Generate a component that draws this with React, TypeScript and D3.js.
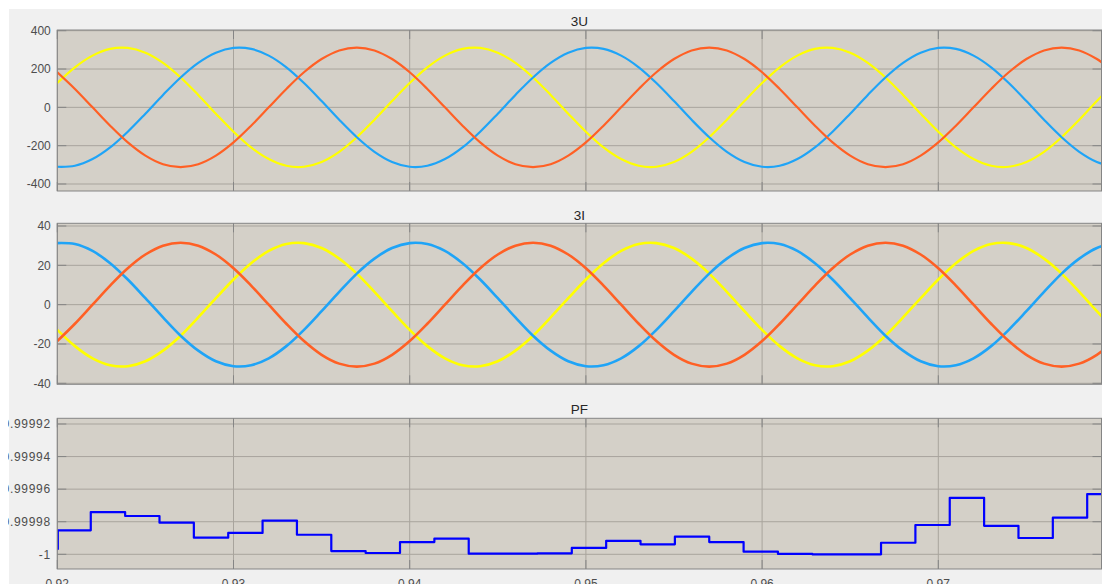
import React from 'react';
import * as d3 from 'd3';

// ---------- data ----------
const sampleTimes = [
  0.920, 0.921, 0.922, 0.923, 0.924, 0.925, 0.926, 0.927, 0.928, 0.929,
  0.930, 0.931, 0.932, 0.933, 0.934, 0.935, 0.936, 0.937, 0.938, 0.939,
  0.940, 0.941, 0.942, 0.943, 0.944, 0.945, 0.946, 0.947, 0.948, 0.949,
  0.950, 0.951, 0.952, 0.953, 0.954, 0.955, 0.956, 0.957, 0.958, 0.959,
  0.960, 0.961, 0.962, 0.963, 0.964, 0.965, 0.966, 0.967, 0.968, 0.969,
  0.970, 0.971, 0.972, 0.973, 0.974, 0.975, 0.976, 0.977, 0.978, 0.979, 0.980,
];

const uYellow = [
  127, 209, 270, 305, 310, 285, 232, 156, 65, -33, -127, -209, -270, -305, -310, -285, -232, -156, -65, 33,
  127, 209, 270, 305, 310, 285, 232, 156, 65, -33, -127, -209, -270, -305, -310, -285, -232, -156, -65, 33,
  127, 209, 270, 305, 310, 285, 232, 156, 65, -33, -127, -209, -270, -305, -310, -285, -232, -156, -65, 33,
  127,
];
const uBlue = [
  -310, -305, -270, -209, -127, -33, 65, 156, 232, 285, 310, 305, 270, 209, 127, 33, -65, -156, -232, -285,
  -310, -305, -270, -209, -127, -33, 65, 156, 232, 285, 310, 305, 270, 209, 127, 33, -65, -156, -232, -285,
  -310, -305, -270, -209, -127, -33, 65, 156, 232, 285, 310, 305, 270, 209, 127, 33, -65, -156, -232, -285,
  -310,
];
const uOrange = [
  183, 96, 0, -96, -183, -252, -297, -312, -297, -252, -183, -96, 0, 96, 183, 252, 297, 312, 297, 252,
  183, 96, 0, -96, -183, -252, -297, -312, -297, -252, -183, -96, 0, 96, 183, 252, 297, 312, 297, 252,
  183, 96, 0, -96, -183, -252, -297, -312, -297, -252, -183, -96, 0, 96, 183, 252, 297, 312, 297, 252,
  183,
];

const iYellow = [
  -12.8, -21.1, -27.3, -30.8, -31.3, -28.8, -23.4, -15.8, -6.5, 3.3, 12.8, 21.1, 27.3, 30.8, 31.3, 28.8, 23.4, 15.8, 6.5, -3.3,
  -12.8, -21.1, -27.3, -30.8, -31.3, -28.8, -23.4, -15.8, -6.5, 3.3, 12.8, 21.1, 27.3, 30.8, 31.3, 28.8, 23.4, 15.8, 6.5, -3.3,
  -12.8, -21.1, -27.3, -30.8, -31.3, -28.8, -23.4, -15.8, -6.5, 3.3, 12.8, 21.1, 27.3, 30.8, 31.3, 28.8, 23.4, 15.8, 6.5, -3.3,
  -12.8,
];
const iBlue = [
  31.3, 30.8, 27.3, 21.1, 12.8, 3.3, -6.5, -15.8, -23.4, -28.8, -31.3, -30.8, -27.3, -21.1, -12.8, -3.3, 6.5, 15.8, 23.4, 28.8,
  31.3, 30.8, 27.3, 21.1, 12.8, 3.3, -6.5, -15.8, -23.4, -28.8, -31.3, -30.8, -27.3, -21.1, -12.8, -3.3, 6.5, 15.8, 23.4, 28.8,
  31.3, 30.8, 27.3, 21.1, 12.8, 3.3, -6.5, -15.8, -23.4, -28.8, -31.3, -30.8, -27.3, -21.1, -12.8, -3.3, 6.5, 15.8, 23.4, 28.8,
  31.3,
];
const iOrange = [
  -18.5, -9.7, 0, 9.7, 18.5, 25.5, 30.0, 31.5, 30.0, 25.5, 18.5, 9.7, 0, -9.7, -18.5, -25.5, -30.0, -31.5, -30.0, -25.5,
  -18.5, -9.7, 0, 9.7, 18.5, 25.5, 30.0, 31.5, 30.0, 25.5, 18.5, 9.7, 0, -9.7, -18.5, -25.5, -30.0, -31.5, -30.0, -25.5,
  -18.5, -9.7, 0, 9.7, 18.5, 25.5, 30.0, 31.5, 30.0, 25.5, 18.5, 9.7, 0, -9.7, -18.5, -25.5, -30.0, -31.5, -30.0, -25.5,
  -18.5,
];

const pfTimes = [
  0.92, 0.92003, 0.9219, 0.92385, 0.9258, 0.92775, 0.9297, 0.93165, 0.9336, 0.93555,
  0.9375, 0.93945, 0.9414, 0.94335, 0.9453, 0.94725, 0.9492, 0.95115, 0.9531, 0.95505,
  0.957, 0.95895, 0.9609, 0.96285, 0.9648, 0.96675, 0.9687, 0.97065, 0.9726, 0.97455,
  0.9765, 0.97845, 0.9800,
];
const pfValues = [
  -0.9999968, -0.9999853, -0.9999741, -0.9999765, -0.9999806, -0.9999898, -0.9999869, -0.9999793, -0.999988, -0.999998,
  -0.9999992, -0.9999925, -0.9999904, -0.9999996, -0.9999996, -0.9999994, -0.9999961, -0.9999917, -0.9999939, -0.9999892,
  -0.9999925, -0.9999984, -0.9999998, -1.0, -1.0, -0.9999929, -0.999982, -0.9999653, -0.9999825, -0.99999,
  -0.9999775, -0.999963, -0.999963,
];

const xTicks = [0.92, 0.93, 0.94, 0.95, 0.96, 0.97];
const xTickLabels = ['0.92', '0.93', '0.94', '0.95', '0.96', '0.97'];
const uTicks = [400, 200, 0, -200, -400];
const uTickLabels = ['400', '200', '0', '-200', '-400'];
const iTicks = [40, 20, 0, -20, -40];
const iTickLabels = ['40', '20', '0', '-20', '-40'];
const pfTicks = [-0.99992, -0.99994, -0.99996, -0.99998, -1];
const pfTickLabels = ['-0.99992', '-0.99994', '-0.99996', '-0.99998', '-1'];

const titles = ['3U', '3I', 'PF'];

// ---------- styles ----------
const W = 1102;
const H = 584;
const FONT = '"Liberation Sans", Arial, Helvetica, sans-serif';
const FIG_BG = '#f0f0f0';
const AX_BG = '#d4d0c8';
const GRID = '#a8a49d';
const BORDER = '#858585';
const TICK_TXT = '#4d4d4d';
const YELLOW = '#ffff00';
const BLUE = '#1fa4f7';
const ORANGE = '#ff6025';
const PF_BLUE = '#0000ff';

const plotLeft = 57.3;
const plotRight = 1101.5;
const x = d3.scaleLinear().domain([0.92, 0.97]).range([plotLeft, 938.3]);

type Series = { values: number[]; color: string; width: number };

type PanelDef = {
  title: string;
  titleY: number;
  top: number;
  bottom: number;
  y: d3.ScaleLinear<number, number>;
  ticks: number[];
  tickLabels: string[];
  series: Series[];
  times: number[];
  step?: boolean;
  labelSpacing?: number;
};

const panels: PanelDef[] = [
  {
    title: titles[0],
    titleY: 26,
    top: 30,
    bottom: 191,
    y: d3.scaleLinear().domain([-400, 400]).range([184, 30.7]),
    ticks: uTicks,
    tickLabels: uTickLabels,
    times: sampleTimes,
    series: [
      { values: uYellow, color: YELLOW, width: 2.2 },
      { values: uBlue, color: BLUE, width: 2.2 },
      { values: uOrange, color: ORANGE, width: 2.2 },
    ],
  },
  {
    title: titles[1],
    titleY: 219.5,
    top: 223.3,
    bottom: 384.3,
    y: d3.scaleLinear().domain([-40, 40]).range([383.3, 226]),
    ticks: iTicks,
    tickLabels: iTickLabels,
    times: sampleTimes,
    series: [
      { values: iYellow, color: YELLOW, width: 2.6 },
      { values: iBlue, color: BLUE, width: 2.6 },
      { values: iOrange, color: ORANGE, width: 2.6 },
    ],
  },
  {
    title: titles[2],
    titleY: 414,
    top: 418.3,
    bottom: 569,
    y: d3.scaleLinear().domain([-1, -0.99992]).range([554.3, 424]),
    ticks: pfTicks,
    tickLabels: pfTickLabels,
    times: pfTimes,
    step: true,
    labelSpacing: 0.7,
    series: [{ values: pfValues, color: PF_BLUE, width: 2.2 }],
  },
];

function Panel({ p, idx }: { p: PanelDef; idx: number }) {
  const clipId = `clip-${idx}`;
  const tickLen = 9;
  const line = d3
    .line<number>()
    .x((_, i) => x(p.times[i]))
    .y((v) => p.y(v))
    .curve(p.step ? d3.curveStepAfter : d3.curveCatmullRom.alpha(0.5));
  const midX = (plotLeft + plotRight) / 2;
  return (
    <g>
      <defs>
        <clipPath id={clipId}>
          <rect x={plotLeft} y={p.top} width={plotRight - plotLeft} height={p.bottom - p.top} />
        </clipPath>
      </defs>
      <rect x={plotLeft} y={p.top} width={plotRight - plotLeft} height={p.bottom - p.top} fill={AX_BG} />
      {/* grid */}
      {xTicks.map((t) => (
        <line key={'gx' + t} x1={x(t)} x2={x(t)} y1={p.top} y2={p.bottom} stroke={GRID} strokeWidth={1} />
      ))}
      {p.ticks.map((t) => (
        <line key={'gy' + t} x1={plotLeft} x2={plotRight} y1={p.y(t)} y2={p.y(t)} stroke={GRID} strokeWidth={1} />
      ))}
      {/* data */}
      <g clipPath={`url(#${clipId})`}>
        {p.series.map((s, i) => (
          <path
            key={i}
            d={line(s.values) || ''}
            fill="none"
            stroke={s.color}
            strokeWidth={s.width}
            strokeLinejoin="round"
            strokeLinecap="butt"
          />
        ))}
      </g>
      {/* box */}
      <rect
        x={plotLeft}
        y={p.top}
        width={plotRight - plotLeft}
        height={p.bottom - p.top}
        fill="none"
        stroke={BORDER}
        strokeWidth={1}
      />
      {/* ticks */}
      {xTicks.map((t) => (
        <g key={'tx' + t}>
          <line x1={x(t)} x2={x(t)} y1={p.bottom} y2={p.bottom - tickLen} stroke={BORDER} />
          <line x1={x(t)} x2={x(t)} y1={p.top} y2={p.top + tickLen} stroke={BORDER} />
        </g>
      ))}
      {p.ticks.map((t, i) => (
        <g key={'ty' + t}>
          <line x1={plotLeft} x2={plotLeft + tickLen} y1={p.y(t)} y2={p.y(t)} stroke={BORDER} />
          <line x1={plotRight} x2={plotRight - tickLen} y1={p.y(t)} y2={p.y(t)} stroke={BORDER} />
          <text
            x={plotLeft - 6.5}
            y={p.y(t)}
            dy="0.35em"
            textAnchor="end"
            fontFamily={FONT}
            fontSize={12}
            letterSpacing={p.labelSpacing || 0}
            fill={TICK_TXT}
          >
            {p.tickLabels[i]}
          </text>
        </g>
      ))}
      <text x={midX} y={p.titleY} textAnchor="middle" fontFamily={FONT} fontSize={13.5} fill="#262626">
        {p.title}
      </text>
    </g>
  );
}

export default function App() {
  return (
    <svg
      width={W}
      height={H}
      style={{ position: 'absolute', left: 0, top: 0, display: 'block' }}
      xmlns="http://www.w3.org/2000/svg"
    >
      <rect x={0} y={0} width={W} height={H} fill="#ffffff" />
      <rect x={9} y={9} width={W - 9} height={H - 9} fill={FIG_BG} />
      {panels.map((p, i) => (
        <Panel key={i} p={p} idx={i} />
      ))}
      {/* x tick labels (bottom panel only) */}
      {xTicks.map((t, i) => (
        <text
          key={'xl' + t}
          x={x(t)}
          y={587.5}
          textAnchor="middle"
          fontFamily={FONT}
          fontSize={12}
          fill={TICK_TXT}
        >
          {xTickLabels[i]}
        </text>
      ))}
      {/* left white margin covers clipped labels */}
      <rect x={0} y={0} width={8} height={H} fill="#ffffff" />
    </svg>
  );
}
